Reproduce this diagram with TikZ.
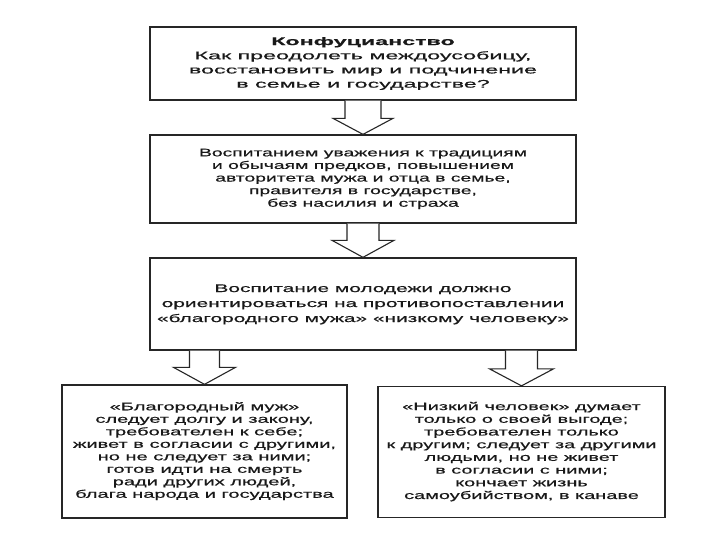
\documentclass[tikz,border=0pt]{standalone}
\usepackage{fontspec}
\setmainfont{Liberation Sans}[FakeBold=0.4]
\usepackage{graphicx}
\usetikzlibrary{calc}
\newsavebox\fitbox
\newcommand\fitto[3]{%
  \sbox\fitbox{\fontsize{11}{#2}\selectfont\begin{tabular}{@{}c@{}}#3\end{tabular}}%
  \pgfmathsetmacro\fitfac{#1/\wd\fitbox}%
  \scalebox{\fitfac}[1]{\usebox\fitbox}}
\tikzset{
  box/.style={draw=black!85, line width=1.3pt, fill=white, inner sep=0pt, align=center, text=black!90},
  blockarrow/.style={draw=black!85, line width=1.1pt, fill=white, line join=miter}
}
% \barrow{start}{tip}{shaft half}{head half}{head length}
\newcommand\barrow[5]{%
  \draw[blockarrow] let \p1=(#1), \p2=(#2) in
    (\x2-#3pt,\y1) -- (\x2-#3pt,\y2+#5pt) -- (\x2-#4pt,\y2+#5pt) -- (\x2,\y2)
    -- (\x2+#4pt,\y2+#5pt) -- (\x2+#3pt,\y2+#5pt) -- (\x2+#3pt,\y1);}
\begin{document}
\begin{tikzpicture}[x=1pt,y=-1pt]
\useasboundingbox[fill=white] (0,0) rectangle (720,540);

\node[box, minimum width=426pt, minimum height=73pt] (b1) at (363,63.5)
  {\raisebox{-2pt}{\fitto{348}{14.2}{\bfseries Конфуцианство\\Как преодолеть междоусобицу,\\восстановить мир и подчинение\\в семье и государстве?}}};

\node[box, minimum width=426pt, minimum height=88pt] (b2) at (363,179)
  {\fitto{328}{12.6}{Воспитанием уважения к традициям\\и обычаям предков, повышением\\авторитета мужа и отца в семье,\\правителя в государстве,\\без насилия и страха}};

\node[box, minimum width=426pt, minimum height=92pt] (b3) at (363,304)
  {\raisebox{-9pt}{\fitto{412}{15}{Воспитание молодежи должно\\ориентироваться на противопоставлении\\«благородного мужа» «низкому человеку»}}};

\node[box, minimum width=285pt, minimum height=133pt] (b4) at (204.5,451.5)
  {\fitto{263}{12.5}{«Благородный муж»\\следует долгу и закону,\\требователен к себе;\\живет в согласии с другими,\\но не следует за ними;\\готов идти на смерть\\ради других людей,\\блага народа и государства}};

\node[box, minimum width=287pt, minimum height=131pt] (b5) at (521.5,452)
  {\fitto{270}{12.7}{«Низкий человек» думает\\только о своей выгоде;\\требователен только\\к другим; следует за другими\\людьми, но не живет\\в согласии с ними;\\кончает жизнь\\самоубийством, в канаве}};

\coordinate (s4) at (b3.south -| b4.north);
\coordinate (s5) at (b3.south -| b5.north);
\barrow{b1.south}{b2.north}{18}{30}{16}
\barrow{b2.south}{b3.north}{16}{31}{17}
\barrow{s4}{b4.north}{15}{31}{17}
\barrow{s5}{b5.north}{16}{32}{17}
\end{tikzpicture}
\end{document}
